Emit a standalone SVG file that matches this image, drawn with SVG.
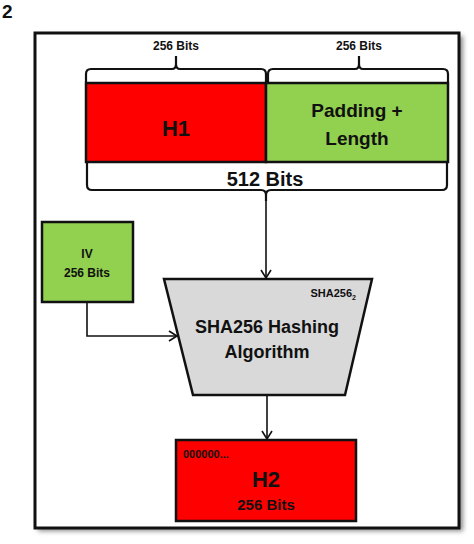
<svg xmlns="http://www.w3.org/2000/svg" width="474" height="544" viewBox="0 0 474 544">
<style>
text{font-family:"Liberation Sans",Arial,sans-serif;font-weight:bold;fill:#111;text-anchor:middle}
.box{stroke:#111;stroke-width:2.5}
.red{fill:#FF0000}
.green{fill:#92D050}
.brace{fill:none;stroke:#111;stroke-width:2.2}
.conn{fill:none;stroke:#111;stroke-width:1.6}
</style>
<defs>
<marker id="arr" markerWidth="12" markerHeight="12" refX="10" refY="6" orient="auto" markerUnits="userSpaceOnUse">
<polyline points="2,1 10,6 2,11" fill="none" stroke="#111" stroke-width="1.6"/>
</marker>
<filter id="sh" x="-10%" y="-10%" width="120%" height="120%"><feGaussianBlur stdDeviation="2.5"/></filter>
</defs>
<text x="2" y="18" style="font-size:19px;text-anchor:start">2</text>
<g id="frame">
<rect x="38" y="36" width="425" height="495" fill="#888" filter="url(#sh)"/>
<rect x="35" y="33" width="424" height="495" fill="#fff" stroke="#111" stroke-width="3"/>
</g>
<g id="brace-top-left">
<path class="brace" d="M86,82 V74 Q86,69 91,69 H172 Q176,69 176,64 V56 V64 Q176,69 180,69 H261 Q266,69 266,74 V82"/>
<text x="176" y="50" style="font-size:12px">256 Bits</text>
</g>
<g id="brace-top-right">
<path class="brace" d="M268,82 V74 Q268,69 273,69 H355 Q359,69 359,64 V56 V64 Q359,69 363,69 H443 Q448,69 448,74 V82"/>
<text x="359" y="50" style="font-size:12px">256 Bits</text>
</g>
<g id="h1">
<rect class="box red" x="86" y="83" width="180" height="79"/>
<text x="176" y="136" style="font-size:22px">H1</text>
</g>
<g id="padding">
<rect class="box green" x="266" y="83" width="182" height="79"/>
<text x="357" y="117" style="font-size:19px">Padding +</text>
<text x="357" y="145" style="font-size:19px">Length</text>
</g>
<g id="brace-bottom">
<path class="brace" d="M87,163 V185 Q87,190 92,190 H261 Q266,190 266,195 V201 V195 Q266,190 271,190 H442 Q447,190 447,185 V163"/>
<text x="265" y="186" style="font-size:20px">512 Bits</text>
</g>
<g id="iv">
<rect class="box green" x="42" y="222" width="91" height="80"/>
<text x="87" y="258" style="font-size:12px">IV</text>
<text x="87" y="277" style="font-size:12px">256 Bits</text>
</g>
<g id="sha">
<polygon class="box" fill="#D9D9D9" points="164,279 372,279 345,395 193,395"/>
<text x="356" y="297" style="font-size:11px;text-anchor:end">SHA256<tspan dy="3" style="font-size:7px">2</tspan></text>
<text x="267" y="333" style="font-size:18px">SHA256 Hashing</text>
<text x="267" y="358" style="font-size:18px">Algorithm</text>
</g>
<g id="h2">
<rect class="box red" x="176" y="440" width="180" height="81"/>
<text x="183" y="458" style="font-size:11px;text-anchor:start">000000...</text>
<text x="266" y="487" style="font-size:22px">H2</text>
<text x="266" y="510" style="font-size:15px">256 Bits</text>
</g>
<g id="connectors">
<path class="conn" d="M266,201 V278" marker-end="url(#arr)"/>
<path class="conn" d="M87,303 V336 H177" marker-end="url(#arr)"/>
<path class="conn" d="M267,396 V439" marker-end="url(#arr)"/>
</g>
</svg>
